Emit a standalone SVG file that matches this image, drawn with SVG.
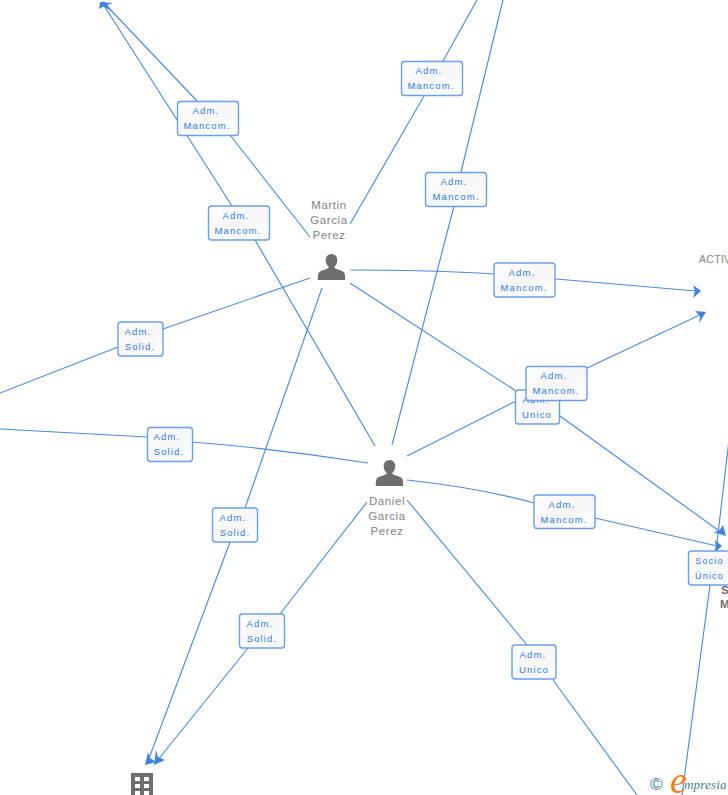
<svg xmlns="http://www.w3.org/2000/svg" width="728" height="795" viewBox="0 0 728 795">
<style>
.c{fill:none;stroke:#4a8be6;stroke-width:1.15}
.b{fill:url(#g);stroke:#6a9fea;stroke-width:1.4}
.l{font:9.5px "Liberation Sans",Arial,sans-serif;letter-spacing:1.15px;fill:#2f7be0;text-anchor:middle}
.n{font:11.5px "Liberation Sans",Arial,sans-serif;letter-spacing:.6px;fill:#858585;text-anchor:middle}
.a{fill:#3f84e5}
.i{fill:#6e6e6e}
</style>
<defs>
<linearGradient id="g" x1="0" y1="0" x2="1" y2="1"><stop offset="0" stop-color="#fff"/><stop offset=".5" stop-color="#f6f6f6"/><stop offset="1" stop-color="#fff"/></linearGradient>
<g id="p"><path class="i" d="M0-16c-3.600 0-5.800 2.800-5.800 6.200 0 2.800 1.200 5 2.800 6.300v1.500c-1.800 1.400-8.200 2-10 5.200-.6 1.100-.7 4.300-.7 6.800h27.400c0-2.500-.1-5.700-.7-6.800-1.800-3.200-8.200-3.800-10-5.200v-1.500c1.600-1.300 2.800-3.500 2.800-6.300C5.800-13.200 3.600-16 0-16z"/></g>
</defs>
<g id="connectors">
<path class="c" d="M310 237L230 135M197 101L105 4"/>
<path class="c" d="M375 446L255 240M232 206L103 4"/>
<path class="c" d="M350 224L424 96M443 61L477 0"/>
<path class="c" d="M392 445L454 206M461 172L503 0"/>
<path class="c" d="M350 270Q430 270 494 274M556 279L696 291"/>
<path class="c" d="M407 456L526 396M587 368L702 314"/>
<path class="c" d="M350 283L516 391M560 416L722 533"/>
<path class="c" d="M407 480Q480 488 534 503M595 518L717 546"/>
<path class="c" d="M407 500L527 645M553 680L637 795"/>
<path class="c" d="M368 463Q280 449 192 442M147 437L0 429"/>
<path class="c" d="M310 278L163 329M118 347L0 393"/>
<path class="c" d="M322 288L245 508M230 542L148 761"/>
<path class="c" d="M367 502L280 614M248 648L157 761"/>
<path class="c" d="M729 440L716 551M710 585L682 795"/>
<path class="a" d="M113 3L100 2 99 9 104 6zM112 11L104 1 100 5z"/>
<path class="a" d="M701 291L693 285 695 291 693 298z"/>
<path class="a" d="M706 312L695 311 700 316 699 323z"/>
<path class="a" d="M726 536L723 525 719 531 713 532z"/>
<path class="a" d="M722 546L715 540 716 546 714 553z"/>
<path class="a" d="M145 765L156 762 150 758 148 752z"/>
<path class="a" d="M154 765L165 760 158 757 156 750z"/>
</g>
<g id="e1"><rect class="b" x="177.500" y="101.500" width="61" height="34" rx="3"/><text class="l" x="206" y="114">Adm.</text><text class="l" x="207" y="129">Mancom.</text></g>
<g id="e2"><rect class="b" x="208.500" y="206" width="61" height="34" rx="3"/><text class="l" x="236" y="219">Adm.</text><text class="l" x="238" y="234">Mancom.</text></g>
<g id="e3"><rect class="b" x="401.500" y="61.500" width="61" height="34" rx="3"/><text class="l" x="429" y="74">Adm.</text><text class="l" x="431" y="89">Mancom.</text></g>
<g id="e4"><rect class="b" x="425.500" y="172.500" width="61" height="34" rx="3"/><text class="l" x="454" y="185">Adm.</text><text class="l" x="456" y="200">Mancom.</text></g>
<g id="e5"><rect class="b" x="494" y="263" width="61" height="34" rx="3"/><text class="l" x="522" y="276">Adm.</text><text class="l" x="524" y="291">Mancom.</text></g>
<g id="e6"><rect class="b" x="515.500" y="390" width="44" height="34" rx="3"/><text class="l" x="536" y="403">Adm.</text><text class="l" x="537" y="418">Unico</text></g>
<g id="e7"><rect class="b" x="526" y="366.500" width="61" height="34" rx="3"/><text class="l" x="554" y="379">Adm.</text><text class="l" x="556" y="394">Mancom.</text></g>
<g id="e8"><rect class="b" x="118" y="322" width="45" height="34" rx="3"/><text class="l" x="138" y="335">Adm.</text><text class="l" x="140" y="350">Solid.</text></g>
<g id="e9"><rect class="b" x="147.500" y="427.500" width="45" height="34" rx="3"/><text class="l" x="167" y="440">Adm.</text><text class="l" x="169" y="455">Solid.</text></g>
<g id="e10"><rect class="b" x="212.500" y="508" width="45" height="34" rx="3"/><text class="l" x="233" y="521">Adm.</text><text class="l" x="235" y="536">Solid.</text></g>
<g id="e11"><rect class="b" x="239.500" y="614" width="45" height="34" rx="3"/><text class="l" x="260" y="627">Adm.</text><text class="l" x="262" y="642">Solid.</text></g>
<g id="e12"><rect class="b" x="534" y="495" width="61" height="33.500" rx="3"/><text class="l" x="562" y="508">Adm.</text><text class="l" x="564" y="523">Mancom.</text></g>
<g id="e13"><rect class="b" x="512" y="645" width="44" height="34" rx="3"/><text class="l" x="533" y="658">Adm.</text><text class="l" x="534" y="673">Unico</text></g>
<g id="n-martin"><text class="n" x="329" y="209">Martin</text><text class="n" x="329" y="224">Garcia</text><text class="n" x="329" y="239">Perez</text><use href="#p" x="331.500" y="270"/></g>
<g id="n-daniel"><text class="n" x="387" y="505">Daniel</text><text class="n" x="387" y="520">Garcia</text><text class="n" x="387" y="535">Perez</text><use href="#p" x="389.500" y="476"/></g>
<g id="n-activ"><text class="n" x="699" y="263" style="text-anchor:start;font-size:10.500px;letter-spacing:.3px">ACTIV</text></g>
<g id="n-s"><text class="n" x="721" y="594" style="text-anchor:start;font-weight:bold;fill:#707070">S</text><text class="n" x="720" y="608" style="text-anchor:start;font-weight:bold;fill:#707070">M</text></g>
<g id="e14"><rect class="b" x="688.500" y="551" width="50" height="34" rx="3"/><text class="l" x="709.500" y="564" style="font-size:9px">Socio</text><text class="l" x="709.500" y="579" style="font-size:9px">Único</text></g>
<g id="n-building"><rect class="i" x="131" y="773" width="22" height="22"/><path fill="#fff" d="M135 777h5v4h-5zM144 777h5v4h-5zM135 784h5v4h-5zM144 784h5v4h-5zM135 791h5v4h-5zM144 791h5v4h-5z"/></g>
<g id="logo"><text x="650" y="790" style="font:17px 'Liberation Sans',sans-serif;fill:#3f7f93">©</text><text x="670" y="793" style="font:italic 38px 'Liberation Serif',serif;fill:#ee7d11">e</text><text x="684" y="789" style="font:italic 13px 'Liberation Serif',serif;letter-spacing:.2px;fill:#3f7f93">mpresia</text></g>
</svg>
